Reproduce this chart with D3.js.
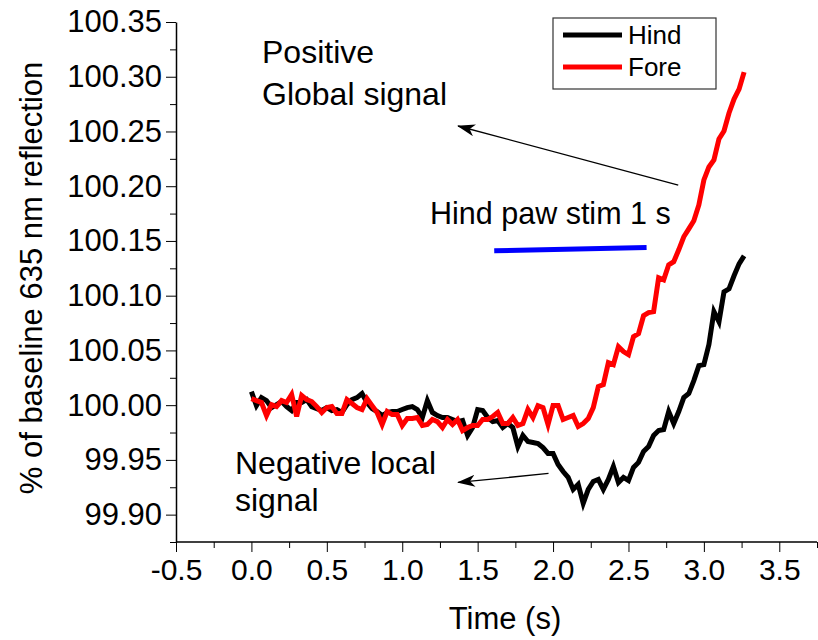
<!DOCTYPE html>
<html>
<head>
<meta charset="utf-8">
<script src="https://cdn.jsdelivr.net/npm/d3@7"></script>
<style>
  body { margin: 0; background: #fff; }
  svg { display: block; }
  text { font-family: "Liberation Sans", Arial, sans-serif; }
</style>
</head>
<body>
<div id="chart"></div>
<script>
// sampling interval of the recording (30 frames per second)
const sampleDt = 1 / 30;

// % of baseline, hind paw region
const hindValues = [
  100.0124, 99.9996, 100.0069, 100.0042, 99.9978, 100.0005, 100.0033, 99.9987, 99.9951, 100.0024,
  100.0024, 100.0051, 99.9987, 99.9969, 99.9951, 99.9978, 99.9951, 99.9960, 99.9933, 100.0005,
  100.0051, 100.0069, 100.0106, 100.0024, 99.9969, 99.9942, 99.9905, 99.9933, 99.9942, 99.9942,
  99.9960, 99.9978, 99.9987, 99.9960, 99.9887, 100.0042, 99.9933, 99.9905, 99.9887, 99.9887,
  99.9869, 99.9850, 99.9860, 99.9723, 99.9796, 99.9960, 99.9951, 99.9887, 99.9850, 99.9860,
  99.9796, 99.9832, 99.9796, 99.9622, 99.9723, 99.9668, 99.9659, 99.9650, 99.9613, 99.9559,
  99.9559, 99.9458, 99.9394, 99.9340, 99.9230, 99.9276, 99.9103, 99.9230, 99.9303, 99.9321,
  99.9230, 99.9321, 99.9440, 99.9294, 99.9340, 99.9312, 99.9431, 99.9477, 99.9577, 99.9622,
  99.9723, 99.9768, 99.9777, 99.9942, 99.9832, 99.9942, 100.0069, 100.0106, 100.0224, 100.0361,
  100.0370, 100.0553, 100.0854, 100.0762, 100.1036, 100.1063, 100.1182, 100.1291, 100.1364
];

// % of baseline, fore paw region
const foreValues = [
  100.0060, 100.0042, 100.0024, 99.9905, 100.0005, 99.9987, 100.0042, 100.0024, 100.0097, 99.9896,
  100.0088, 100.0051, 100.0033, 99.9987, 99.9933, 99.9978, 99.9987, 99.9923, 99.9923, 100.0051,
  100.0015, 99.9978, 99.9960, 100.0060, 99.9996, 99.9933, 99.9823, 99.9942, 99.9914, 99.9914,
  99.9814, 99.9878, 99.9878, 99.9887, 99.9814, 99.9823, 99.9869, 99.9850, 99.9796, 99.9869,
  99.9823, 99.9869, 99.9768, 99.9796, 99.9814, 99.9814, 99.9869, 99.9869, 99.9896, 99.9933,
  99.9832, 99.9832, 99.9887, 99.9814, 99.9832, 99.9960, 99.9887, 99.9996, 99.9978, 99.9823,
  99.9996, 99.9996, 99.9869, 99.9887, 99.9905, 99.9805, 99.9832, 99.9878, 99.9978, 100.0170,
  100.0188, 100.0389, 100.0370, 100.0534, 100.0489, 100.0461, 100.0626, 100.0653, 100.0817, 100.0845,
  100.0854, 100.1164, 100.1145, 100.1282, 100.1310, 100.1419, 100.1538, 100.1611, 100.1684, 100.1829,
  100.2057, 100.2176, 100.2240, 100.2431, 100.2504, 100.2669, 100.2796, 100.2887, 100.3042
];

// stimulus bar: [time, value] at both ends
const stimBar = [[1.61, 100.141], [2.62, 100.144]];

// annotation arrows: [tail, head] in data units
const arrowUpper = [[2.83, 100.201], [1.37, 100.255]];
const arrowLower = [[1.97, 99.9376], [1.37, 99.9294]];

const xTicks = [-0.5, 0.0, 0.5, 1.0, 1.5, 2.0, 2.5, 3.0, 3.5];
const yTicks = [99.90, 99.95, 100.00, 100.05, 100.10, 100.15, 100.20, 100.25, 100.30, 100.35];

const series = [
  { name: "Hind", values: hindValues, color: "#000000" },
  { name: "Fore", values: foreValues, color: "#ff0000" }
];

const iWidth = 818, iHeight = 640;
const oMargin = { top: 22, right: 1, bottom: 98, left: 176 };
const sFont = "Liberation Sans, Arial, sans-serif";

const svg = d3.select("#chart").append("svg")
  .attr("width", iWidth).attr("height", iHeight);

const x = d3.scaleLinear().domain([-0.5, 3.75]).range([oMargin.left, iWidth - oMargin.right]);
const y = d3.scaleLinear().domain([99.875, 100.35]).range([iHeight - oMargin.bottom, oMargin.top]);

// hyphen minus like the original, not the unicode minus d3 uses
const fmtX = d => d3.format(".1f")(d).replace("\u2212", "-");

// x axis, minor ticks first then labelled majors
const xMinor = d3.range(-0.25, 3.76, 0.5);
svg.append("g")
  .attr("transform", `translate(0,${y(99.875)})`)
  .call(d3.axisBottom(x).tickValues(xMinor).tickSize(6).tickFormat(""))
  .call(g => g.select(".domain").remove());
svg.append("g")
  .attr("transform", `translate(0,${y(99.875)})`)
  .call(d3.axisBottom(x).tickValues(xTicks).tickSize(10).tickSizeOuter(0).tickPadding(7).tickFormat(fmtX))
  .call(g => g.selectAll("text").attr("font-size", 30).attr("fill", "#000").attr("font-family", sFont))
  .call(g => g.select(".domain").attr("stroke-width", 1.5).attr("d", `M${x(-0.5)},0H${x(3.75)}`));

// y axis
const yMinor = d3.range(99.875, 100.36, 0.05);
svg.append("g")
  .attr("transform", `translate(${x(-0.5)},0)`)
  .call(d3.axisLeft(y).tickValues(yMinor).tickSize(6).tickFormat(""))
  .call(g => g.select(".domain").remove());
svg.append("g")
  .attr("transform", `translate(${x(-0.5)},0)`)
  .call(d3.axisLeft(y).tickValues(yTicks).tickSize(10).tickSizeOuter(0).tickPadding(4).tickFormat(d3.format(".2f")))
  .call(g => g.selectAll("text").attr("font-size", 31).attr("fill", "#000").attr("font-family", sFont))
  .call(g => g.select(".domain").attr("stroke-width", 1.5));

// axis titles
svg.append("text")
  .attr("x", 505).attr("y", 629)
  .attr("text-anchor", "middle").attr("font-size", 31)
  .text("Time (s)");
svg.append("text")
  .attr("transform", `translate(42,${(y(99.875) + y(100.35)) / 2 - 4}) rotate(-90)`)
  .attr("text-anchor", "middle").attr("font-size", 31)
  .text("% of baseline 635 nm reflection");

// data lines
const line = d3.line()
  .x((d, i) => x(i * sampleDt))
  .y(d => y(d));

series.forEach(s => {
  svg.append("path")
    .datum(s.values)
    .attr("fill", "none")
    .attr("stroke", s.color)
    .attr("stroke-width", 5)
    .attr("stroke-linejoin", "miter")
    .attr("d", line);
});

// stimulus bar
svg.append("line")
  .attr("x1", x(stimBar[0][0])).attr("y1", y(stimBar[0][1]))
  .attr("x2", x(stimBar[1][0])).attr("y2", y(stimBar[1][1]))
  .attr("stroke", "#0000ff").attr("stroke-width", 5);

// arrows, filled head at the end point
svg.append("defs").append("marker")
  .attr("id", "arrowhead")
  .attr("viewBox", "0 0 18 12")
  .attr("refX", 17).attr("refY", 6)
  .attr("markerWidth", 18).attr("markerHeight", 12)
  .attr("markerUnits", "userSpaceOnUse")
  .attr("orient", "auto")
  .append("path").attr("d", "M18,6L0,0L5,6L0,12Z").attr("fill", "#000");

[arrowUpper, arrowLower].forEach(a => {
  svg.append("line")
    .attr("x1", x(a[0][0])).attr("y1", y(a[0][1]))
    .attr("x2", x(a[1][0])).attr("y2", y(a[1][1]))
    .attr("stroke", "#000").attr("stroke-width", 1.3)
    .attr("marker-end", "url(#arrowhead)");
});

// annotations
const notes = [
  { text: "Positive", x: 262, y: 63, size: 32 },
  { text: "Global signal", x: 262, y: 105, size: 32 },
  { text: "Hind paw stim 1 s", x: 430, y: 224, size: 30.5 },
  { text: "Negative local", x: 235, y: 474, size: 32 },
  { text: "signal", x: 235, y: 511, size: 32 }
];
svg.selectAll("text.note").data(notes).enter()
  .append("text").attr("class", "note")
  .attr("x", d => d.x).attr("y", d => d.y)
  .attr("font-size", d => d.size)
  .text(d => d.text);

// legend
const gLegend = svg.append("g").attr("transform", "translate(553,18)");
gLegend.append("rect")
  .attr("width", 163).attr("height", 71)
  .attr("fill", "#fff").attr("stroke", "#333").attr("stroke-width", 1.2);
series.forEach((s, i) => {
  const iy = 17 + i * 32;
  gLegend.append("line")
    .attr("x1", 10).attr("x2", 69).attr("y1", iy).attr("y2", iy)
    .attr("stroke", s.color).attr("stroke-width", 5);
  gLegend.append("text")
    .attr("x", 75).attr("y", iy + 9)
    .attr("font-size", 26)
    .text(s.name);
});
</script>
</body>
</html>
